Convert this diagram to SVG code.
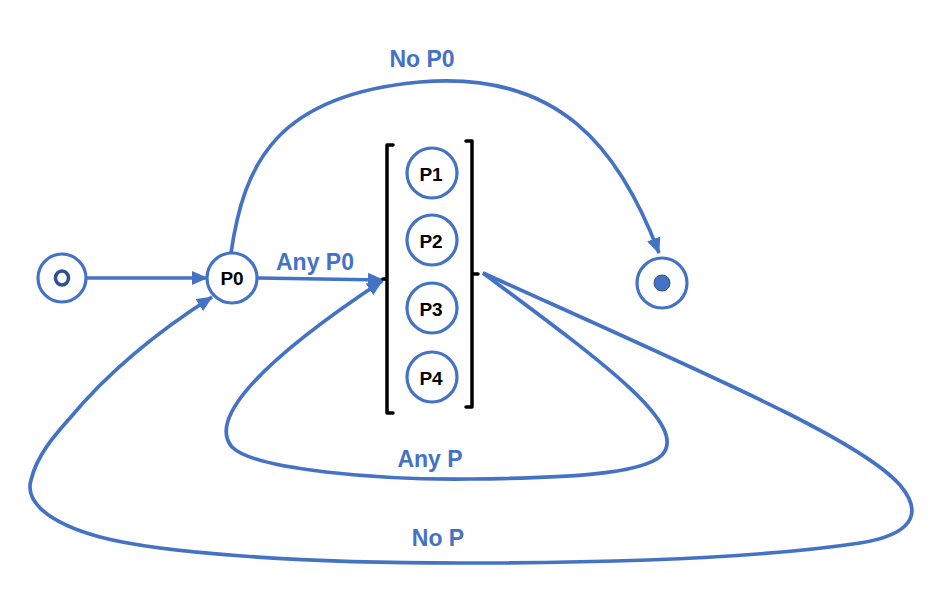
<svg xmlns="http://www.w3.org/2000/svg" width="933" height="590" viewBox="0 0 933 590">
<style>
.node{fill:#fff;stroke:#4472C4;stroke-width:3.2}
.nl{font-family:"Liberation Sans",Arial,sans-serif;font-weight:bold;font-size:19px;fill:#000;text-anchor:middle}
.el{font-family:"Liberation Sans",Arial,sans-serif;font-weight:bold;font-size:23px;fill:#4472C4;text-anchor:middle}
.edge{fill:none;stroke:#4472C4;stroke-width:3.7}
.br{fill:none;stroke:#000;stroke-width:3.5;stroke-linejoin:round;stroke-linecap:round}
</style>
<defs>
<marker id="ah" markerUnits="userSpaceOnUse" markerWidth="16" markerHeight="14" refX="15" refY="7" orient="auto" viewBox="0 0 16 14">
<path d="M0,0 L16,7 L0,14 Z" fill="#4472C4"/>
</marker>
</defs>
<rect width="933" height="590" fill="#fff"/>
<g id="connectors">
<path class="edge" d="M87,278 L207,278" marker-end="url(#ah)"/>
<path class="edge" d="M258,278 L383,280" marker-end="url(#ah)"/>
<path class="edge" d="M231,253 C244,165 275,95 420,82 C560,70 620,150 659,253" marker-end="url(#ah)"/>
<path class="edge" d="M483,273 C600,360 690,425 662,455 C642,475 560,478 470,479 C380,480 255,470 232,447 C212,424 240,375 382,281" marker-end="url(#ah)"/>
<path class="edge" d="M483,273 C720,380 860,440 900,485 C925,515 910,535 860,543 C760,558 620,563 460,563 C300,563 160,553 100,537 C45,522 25,500 31,480 C37,455 55,435 70,418 C110,370 160,330 212,297" marker-end="url(#ah)"/>
<text class="el" x="422" y="67">No P0</text>
<text class="el" x="315" y="270">Any P0</text>
<text class="el" x="430" y="467">Any P</text>
<text class="el" x="438" y="546">No P</text>
</g>
<g id="start">
<circle class="node" cx="62" cy="278" r="24"/>
<ellipse cx="62" cy="278" rx="6.5" ry="7" fill="none" stroke="#2F528F" stroke-width="3.5"/>
</g>
<g id="p0">
<circle class="node" cx="232" cy="278" r="25"/>
<text class="nl" x="232" y="285">P0</text>
</g>
<g id="group">
<path class="br" d="M393,145 L387,145 L387,413 L393,413 M387,279 L383,279"/>
<path class="br" d="M466,141 L472,141 L472,407 L466,407 M472,274 L478,274"/>
</g>
<g id="p1"><circle class="node" cx="432" cy="173" r="25"/><text class="nl" x="431" y="181">P1</text></g>
<g id="p2"><circle class="node" cx="432" cy="240" r="25"/><text class="nl" x="431" y="248">P2</text></g>
<g id="p3"><circle class="node" cx="432" cy="308" r="25"/><text class="nl" x="431" y="316">P3</text></g>
<g id="p4"><circle class="node" cx="432" cy="377" r="25"/><text class="nl" x="431" y="385">P4</text></g>
<g id="end">
<circle class="node" cx="662" cy="283" r="25"/>
<circle cx="662" cy="283" r="8" fill="#4472C4" stroke="#2F528F" stroke-width="1"/>
</g>
</svg>
